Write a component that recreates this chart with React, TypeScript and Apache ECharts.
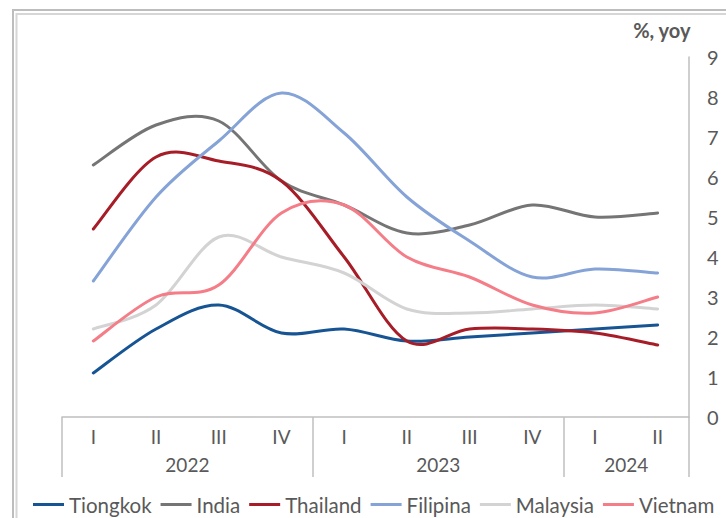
import React, { useEffect, useRef } from "react";
import * as echarts from "echarts";

const quarters = ["I", "II", "III", "IV", "I", "II", "III", "IV", "I", "II"];
const yearSlots = ["", "", "2022", "", "", "", "2023", "", "", "2024", ""];
const yTicks = [0, 9, 1];

const tiongkok = [1.1, 2.2, 2.8, 2.1, 2.2, 1.9, 2.0, 2.1, 2.2, 2.3];
const india = [6.3, 7.3, 7.4, 5.9, 5.3, 4.6, 4.8, 5.3, 5.0, 5.1];
const thailand = [4.7, 6.5, 6.4, 5.9, 4.0, 1.9, 2.2, 2.2, 2.1, 1.8];
const filipina = [3.4, 5.5, 6.9, 8.1, 7.1, 5.5, 4.4, 3.5, 3.7, 3.6];
const malaysia = [2.2, 2.8, 4.5, 4.0, 3.6, 2.7, 2.6, 2.7, 2.8, 2.7];
const vietnam = [1.9, 3.0, 3.3, 5.1, 5.3, 4.0, 3.5, 2.8, 2.6, 3.0];

const seriesDefs = [
  { name: "Tiongkok", data: tiongkok, color: "#175494" },
  { name: "India", data: india, color: "#757575" },
  { name: "Thailand", data: thailand, color: "#a61d28" },
  { name: "Filipina", data: filipina, color: "#85a3d6" },
  { name: "Malaysia", data: malaysia, color: "#d3d3d3" },
  { name: "Vietnam", data: vietnam, color: "#f47d88" },
];

const FONT = "Lato";
const TXT = "#595959";

function makeRenderItem(values: number[], color: string) {
  return (params: any, api: any) => {
    if (params.dataIndex !== 0) return null;
    const pts = values.map((v, i) => api.coord([i, v]));
    const n = pts.length;
    let d = `M${pts[0][0]},${pts[0][1]}`;
    for (let i = 0; i < n - 1; i++) {
      const p0 = pts[Math.max(0, i - 1)];
      const p1 = pts[i];
      const p2 = pts[i + 1];
      const p3 = pts[Math.min(n - 1, i + 2)];
      const c1x = p1[0] + (p2[0] - p0[0]) / 6;
      const c1y = p1[1] + (p2[1] - p0[1]) / 6;
      const c2x = p2[0] - (p3[0] - p1[0]) / 6;
      const c2y = p2[1] - (p3[1] - p1[1]) / 6;
      d += ` C${c1x},${c1y} ${c2x},${c2y} ${p2[0]},${p2[1]}`;
    }
    return {
      type: "path",
      shape: { pathData: d },
      style: { fill: "none", stroke: color, lineWidth: 3, lineCap: "round", lineJoin: "round" },
      silent: true,
    };
  };
}

export default function App() {
  const ref = useRef<HTMLDivElement>(null);
  useEffect(() => {
    if (!ref.current) return;
    const chart = echarts.init(ref.current, null, { renderer: "svg" });
    chart.setOption({
      animation: false,
      backgroundColor: "#ffffff",
      textStyle: { fontFamily: FONT },
      grid: { left: 62, right: 37, top: 57, bottom: 101, containLabel: false },
      graphic: [
        {
          type: "rect",
          shape: { x: 13, y: 10, width: 760, height: 560 },
          style: { fill: "none", stroke: "#bdbdbd", lineWidth: 2 },
          silent: true,
        },
        {
          type: "rect",
          shape: { x: 16.5, y: 14, width: 760, height: 560 },
          style: { fill: "none", stroke: "#d6d6d6", lineWidth: 2 },
          silent: true,
        },
        {
          type: "text",
          right: 35,
          top: 20,
          style: {
            text: "%, yoy",
            fill: TXT,
            font: `bold 20px ${FONT}`,
          },
        },
      ],
      legend: {
        left: 28,
        top: 489,
        width: 720,
        icon: "rect",
        itemWidth: 31,
        itemHeight: 3,
        itemGap: 9,
        textStyle: { color: TXT, fontSize: 20.5, fontFamily: FONT },
        data: seriesDefs.map((s) => s.name),
      },
      xAxis: [
        {
          type: "category",
          data: quarters,
          boundaryGap: true,
          axisLine: { show: true, lineStyle: { color: "#bfbfbf", width: 1.5 } },
          axisTick: { show: false },
          axisLabel: { color: TXT, fontSize: 19, fontFamily: FONT, margin: 10, interval: 0 },
          splitLine: { show: false },
        },
        {
          type: "category",
          data: yearSlots,
          boundaryGap: false,
          position: "bottom",
          axisLine: { show: false },
          axisTick: {
            show: true,
            length: 60,
            interval: (i: number) => i === 0 || i === 4 || i === 8 || i === 10,
            lineStyle: { color: "#bfbfbf", width: 1.5 },
          },
          axisLabel: { color: TXT, fontSize: 19, fontFamily: FONT, margin: 38, interval: 0 },
          splitLine: { show: false },
        },
      ],
      yAxis: {
        type: "value",
        position: "right",
        min: yTicks[0],
        max: yTicks[1],
        interval: yTicks[2],
        axisLine: { show: true, lineStyle: { color: "#bfbfbf", width: 1.5 } },
        axisTick: { show: false },
        splitLine: { show: false },
        axisLabel: { color: TXT, fontSize: 20, fontFamily: FONT, margin: 18 },
      },
      series: seriesDefs.map((s) => ({
        name: s.name,
        type: "custom",
        xAxisIndex: 0,
        yAxisIndex: 0,
        data: s.data.map((v, i) => [i, v]),
        encode: { x: 0, y: 1 },
        renderItem: makeRenderItem(s.data, s.color),
        itemStyle: { color: s.color },
        clip: false,
        z: 3,
      })),
    });
    return () => chart.dispose();
  }, []);
  return (
    <div
      ref={ref}
      style={{ position: "fixed", left: 0, top: 0, width: 726, height: 518 }}
    />
  );
}
